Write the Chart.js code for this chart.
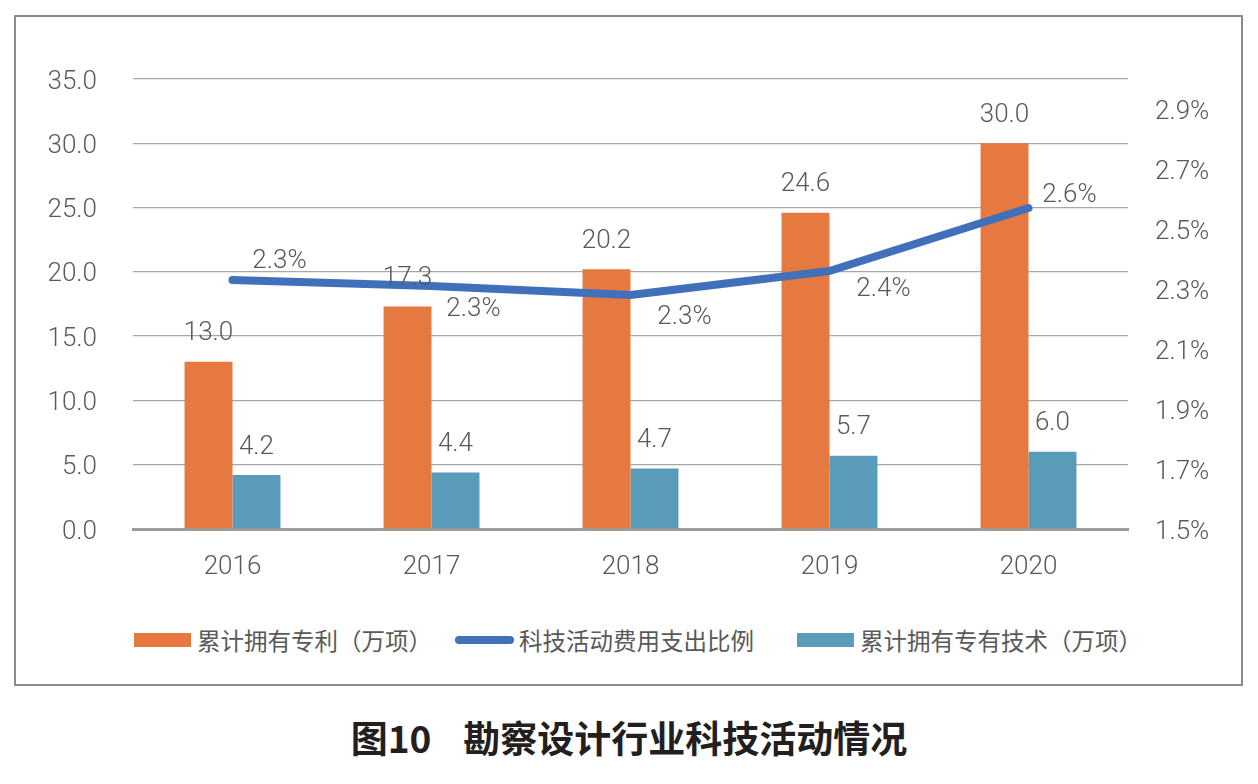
<!DOCTYPE html>
<html>
<head>
<meta charset="utf-8">
<script src="https://cdn.jsdelivr.net/npm/chart.js@4/dist/chart.umd.min.js"></script>
<style>
  body { margin: 0; background: #fff; width: 1258px; height: 784px; position: relative; overflow: hidden; }
  #frame { position: absolute; left: 14px; top: 15px; width: 1229px; height: 671px; box-sizing: border-box; border: 2px solid #8c8c8c; }
  #chart { position: absolute; left: 0; top: 0; }
  .lg { position: absolute; top: 624px; height: 32px; line-height: 32px; font-family: "Noto Sans CJK SC", sans-serif; font-size: 23.5px; color: #595959; white-space: nowrap; }
  .sw { position: absolute; }
  #title { position: absolute; left: 0; top: 716px; width: 1258px; text-align: center; font-family: "Noto Sans CJK SC", sans-serif; font-weight: bold; font-size: 37px; line-height: 42px; color: #231f20; }
</style>
</head>
<body>
<div id="frame"></div>
<canvas id="chart" width="1258" height="600"></canvas>

<!-- chú thích vẽ bằng html, đặt theo vị trí trong ảnh gốc -->
<div class="sw" style="left:134px; top:633px; width:57px; height:14px; background:#E6793F;"></div>
<div class="lg" style="left:197px;">累计拥有专利（万项）</div>
<div class="sw" style="left:455px; top:636px; width:59px; height:8px; border-radius:4px; background:#4170BB;"></div>
<div class="lg" style="left:519px;">科技活动费用支出比例</div>
<div class="sw" style="left:797px; top:633px; width:57px; height:14px; background:#5B9BBA;"></div>
<div class="lg" style="left:860px;">累计拥有专有技术（万项）</div>

<div id="title">图10<span style="margin-left:32px">勘察设计行业科技活动情况</span></div>

<script>
// số liệu
var years = ["2016", "2017", "2018", "2019", "2020"];
var patents = [13.0, 17.3, 20.2, 24.6, 30.0];      // 累计拥有专利（万项）
var techs = [4.2, 4.4, 4.7, 5.7, 6.0];             // 累计拥有专有技术（万项）
var ratio = [2.33, 2.31, 2.28, 2.36, 2.57];        // 科技活动费用支出比例 (%)
var leftTicks = [0, 5, 10, 15, 20, 25, 30, 35];
var rightTicks = [1.5, 1.7, 1.9, 2.1, 2.3, 2.5, 2.7, 2.9];

var textColor = "#595959";
var numFont = { family: "Roboto, 'Liberation Sans', sans-serif", size: 26, weight: "300" };

// plugin tự viết để vẽ nhãn số liệu
var valueLabels = {
  id: "valueLabels",
  afterDatasetsDraw: function (chart, args, opts) {
    var ctx = chart.ctx;
    ctx.save();
    ctx.font = numFont.weight + " " + numFont.size + "px " + numFont.family;
    ctx.fillStyle = textColor;
    ctx.textAlign = "center";
    ctx.textBaseline = "middle";
    chart.data.datasets.forEach(function (ds, i) {
      var meta = chart.getDatasetMeta(i);
      meta.data.forEach(function (el, j) {
        if (ds.type === "line") {
          var off = opts.lineOffsets[j];
          ctx.fillText(ds.data[j].toFixed(1) + "%", el.x + off[0], el.y + off[1] + 3);
        } else {
          ctx.fillText(ds.data[j].toFixed(1), el.x, el.y - 28);
        }
      });
    });
    ctx.restore();
  }
};

var ctx = document.getElementById("chart").getContext("2d");
var myChart = new Chart(ctx, {
  type: "bar",
  data: {
    labels: years,
    datasets: [
      {
        type: "line",
        label: "科技活动费用支出比例",
        data: ratio,
        yAxisID: "y1",
        borderColor: "#4170BB",
        borderWidth: 8,
        borderCapStyle: "round",
        borderJoinStyle: "round",
        pointRadius: 0,
        fill: false,
        order: 0,
      },
      {
        label: "累计拥有专利（万项）",
        data: patents,
        yAxisID: "y",
        backgroundColor: "#E6793F",
        categoryPercentage: 0.482,
        barPercentage: 1.0,
        order: 1,
      },
      {
        label: "累计拥有专有技术（万项）",
        data: techs,
        yAxisID: "y",
        backgroundColor: "#5B9BBA",
        categoryPercentage: 0.482,
        barPercentage: 1.0,
        order: 1,
      },
    ],
  },
  options: {
    responsive: false,
    animation: false,
    layout: { padding: { top: 79, left: 0, right: 0, bottom: 0 } },
    plugins: {
      legend: { display: false },
      tooltip: { enabled: false },
      valueLabels: { lineOffsets: [[47, -22], [42, 20], [54, 19], [54, 15], [41, -16]] },
    },
    scales: {
      x: {
        grid: { display: false, drawTicks: false },
        border: { display: true, color: "#9c9c9c", width: 3 },
        ticks: { color: textColor, font: numFont, padding: 23 },
        afterFit: function (scale) { scale.height = 71; },
      },
      y: {
        position: "left",
        min: 0,
        max: 35,
        afterBuildTicks: function (scale) {
          scale.ticks = leftTicks.map(function (v) { return { value: v }; });
        },
        grid: { color: "#a8a8a8", lineWidth: 1.3, drawTicks: false },
        border: { display: false },
        ticks: {
          color: textColor, font: numFont, padding: 36, labelOffset: 3,
          callback: function (v) { return Number(v).toFixed(1); },
        },
        afterFit: function (scale) { scale.width = 133; },
      },
      y1: {
        position: "right",
        min: 1.5,
        max: 3.0,
        afterBuildTicks: function (scale) {
          scale.ticks = rightTicks.map(function (v) { return { value: v }; });
        },
        grid: { display: false, drawTicks: false },
        border: { display: false },
        ticks: {
          color: textColor, font: numFont, padding: 27, labelOffset: 3,
          callback: function (v) { return Number(v).toFixed(1) + "%"; },
        },
        afterFit: function (scale) { scale.width = 130; },
      },
    },
  },
  plugins: [valueLabels],
});
</script>
</body>
</html>
